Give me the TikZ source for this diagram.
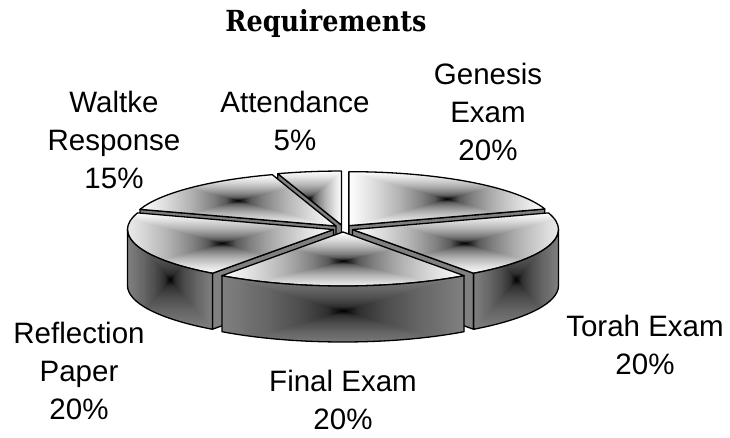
\documentclass[tikz,border=0pt]{standalone}
\usepackage{fontspec}
\newfontfamily\labelfont{Liberation Sans}
\newfontfamily\titlefont{DejaVu Serif}[FakeStretch=0.88]
\usetikzlibrary{calc}

% pie geometry (1 unit = 1 px of the picture)
\def\pcx{343}   % centre of the pie
\def\pcy{209.5}
\def\prx{206}   % radii of the top ellipse
\def\pry{54}
\def\pdep{56}   % thickness
\def\pex{10}    % explode
\def\pey{3.5}

% gradients: dark in the middle, light at the edges
\pgfdeclarehorizontalshading{tophor}{100bp}{color(0bp)=(white); color(25bp)=(white);
  color(28.125bp)=(black!6.5); color(31.25bp)=(black!13); color(34.375bp)=(black!21);
  color(37.5bp)=(black!29); color(40.625bp)=(black!39); color(43.75bp)=(black!50);
  color(46.875bp)=(black!65); color(50bp)=(black); color(53.125bp)=(black!65);
  color(56.25bp)=(black!50); color(59.375bp)=(black!39); color(62.5bp)=(black!29);
  color(65.625bp)=(black!21); color(68.75bp)=(black!13); color(71.875bp)=(black!6.5);
  color(75bp)=(white); color(100bp)=(white)}
\pgfdeclareverticalshading{topver}{100bp}{color(0bp)=(white); color(25bp)=(white);
  color(28.125bp)=(black!6.5); color(31.25bp)=(black!13); color(34.375bp)=(black!21);
  color(37.5bp)=(black!29); color(40.625bp)=(black!39); color(43.75bp)=(black!50);
  color(46.875bp)=(black!65); color(50bp)=(black); color(53.125bp)=(black!65);
  color(56.25bp)=(black!50); color(59.375bp)=(black!39); color(62.5bp)=(black!29);
  color(65.625bp)=(black!21); color(68.75bp)=(black!13); color(71.875bp)=(black!6.5);
  color(75bp)=(white); color(100bp)=(white)}
\pgfdeclarehorizontalshading{sidehor}{100bp}{color(0bp)=(black!50); color(25bp)=(black!50);
  color(28.125bp)=(black!53); color(31.25bp)=(black!57); color(34.375bp)=(black!60);
  color(37.5bp)=(black!65); color(40.625bp)=(black!69); color(43.75bp)=(black!75);
  color(46.875bp)=(black!82); color(50bp)=(black); color(53.125bp)=(black!82);
  color(56.25bp)=(black!75); color(59.375bp)=(black!69); color(62.5bp)=(black!65);
  color(65.625bp)=(black!60); color(68.75bp)=(black!57); color(71.875bp)=(black!53);
  color(75bp)=(black!50); color(100bp)=(black!50)}
\pgfdeclareverticalshading{sidever}{100bp}{color(0bp)=(black!50); color(25bp)=(black!50);
  color(28.125bp)=(black!53); color(31.25bp)=(black!57); color(34.375bp)=(black!60);
  color(37.5bp)=(black!65); color(40.625bp)=(black!69); color(43.75bp)=(black!75);
  color(46.875bp)=(black!82); color(50bp)=(black); color(53.125bp)=(black!82);
  color(56.25bp)=(black!75); color(59.375bp)=(black!69); color(62.5bp)=(black!65);
  color(65.625bp)=(black!60); color(68.75bp)=(black!57); color(71.875bp)=(black!53);
  color(75bp)=(black!50); color(100bp)=(black!50)}

\tikzset{
  pieline/.style={line width=1.3pt, line join=round},
  cutface/.style={pieline, draw=black, fill=black!50},
  slicelabel/.style={font=\labelfont\fontsize{29.5}{38}\selectfont, align=center, anchor=north, inner sep=0pt},
}

% box shaped gradient: #1 across, #2 up and down, #3 path
\newcommand\boxshade[3]{%
  \shade[shading=#1] #3;
  \shade[shading=#2, blend mode=lighten] #3;
  \draw[pieline] #3;
}

% slice from #1 to #2 degrees: cut faces and top
\newcommand\pieslice[2]{%
  \pgfmathsetmacro\midang{(#1+#2)/2}
  \coordinate (c) at ({\pcx+\pex*cos(\midang)},{\pcy+\pey*sin(\midang)});
  \coordinate (cb) at ($(c)+(0,-\pdep)$);
  \pgfmathtruncatemacro\showa{cos(#1)>0.01}
  \pgfmathtruncatemacro\showb{cos(#2)<-0.01}
  \ifnum\showa=1
    \draw[cutface] (c) -- ($(c)+({\prx*cos(#1)},{\pry*sin(#1)})$) -- ++(0,-\pdep) -- (cb) -- cycle;
  \fi
  \ifnum\showb=1
    \draw[cutface] (c) -- ($(c)+({\prx*cos(#2)},{\pry*sin(#2)})$) -- ++(0,-\pdep) -- (cb) -- cycle;
  \fi
  \boxshade{tophor}{topver}{(c) -- ($(c)+({\prx*cos(#1)},{\pry*sin(#1)})$)
    arc[start angle=#1, end angle=#2, x radius=\prx, y radius=\pry] -- cycle}
}

% outer side of the last slice, from #1 to #2 degrees
\newcommand\pieside[2]{%
  \boxshade{sidehor}{sidever}{($(c)+({\prx*cos(#1)},{\pry*sin(#1)})$)
    arc[start angle=#1, end angle=#2, x radius=\prx, y radius=\pry] -- ++(0,-\pdep)
    arc[start angle=#2, end angle=#1, x radius=\prx, y radius=\pry] -- cycle}
}

\begin{document}
\begin{tikzpicture}[x=1pt, y=1pt]
    \useasboundingbox (0,0) rectangle (730,438);

    % Title
    \node[font=\titlefont\bfseries\fontsize{29}{34}\selectfont, anchor=base, inner sep=0pt]
        (title) at (326,406) {Requirements};

    % Slices, back to front
    \pieslice{90}{108}     % attendance
    \pieslice{18}{90}      % genesis
    \pieslice{108}{162}    % waltke
    \pieslice{-54}{18}     % torah
    \pieside{-54}{0}
    \pieslice{162}{234}    % reflection
    \pieside{180}{234}
    \pieslice{-126}{-54}   % final
    \pieside{-126}{-54}

    % Labels
    \node[slicelabel] (lblgenesis) at (488,375) {Genesis\\Exam\\20\%};
    \node[slicelabel] (lblwaltke) at (114,347) {Waltke\\Response\\15\%};
    \node[slicelabel] (lblattend) at (295,347) {Attendance\\5\%};
    \node[slicelabel] (lblreflect) at (79,116) {Reflection\\Paper\\20\%};
    \node[slicelabel] (lblfinal) at (343,68) {Final Exam\\20\%};
    \node[slicelabel] (lbltorah) at (645,123) {Torah Exam\\20\%};
\end{tikzpicture}
\end{document}
